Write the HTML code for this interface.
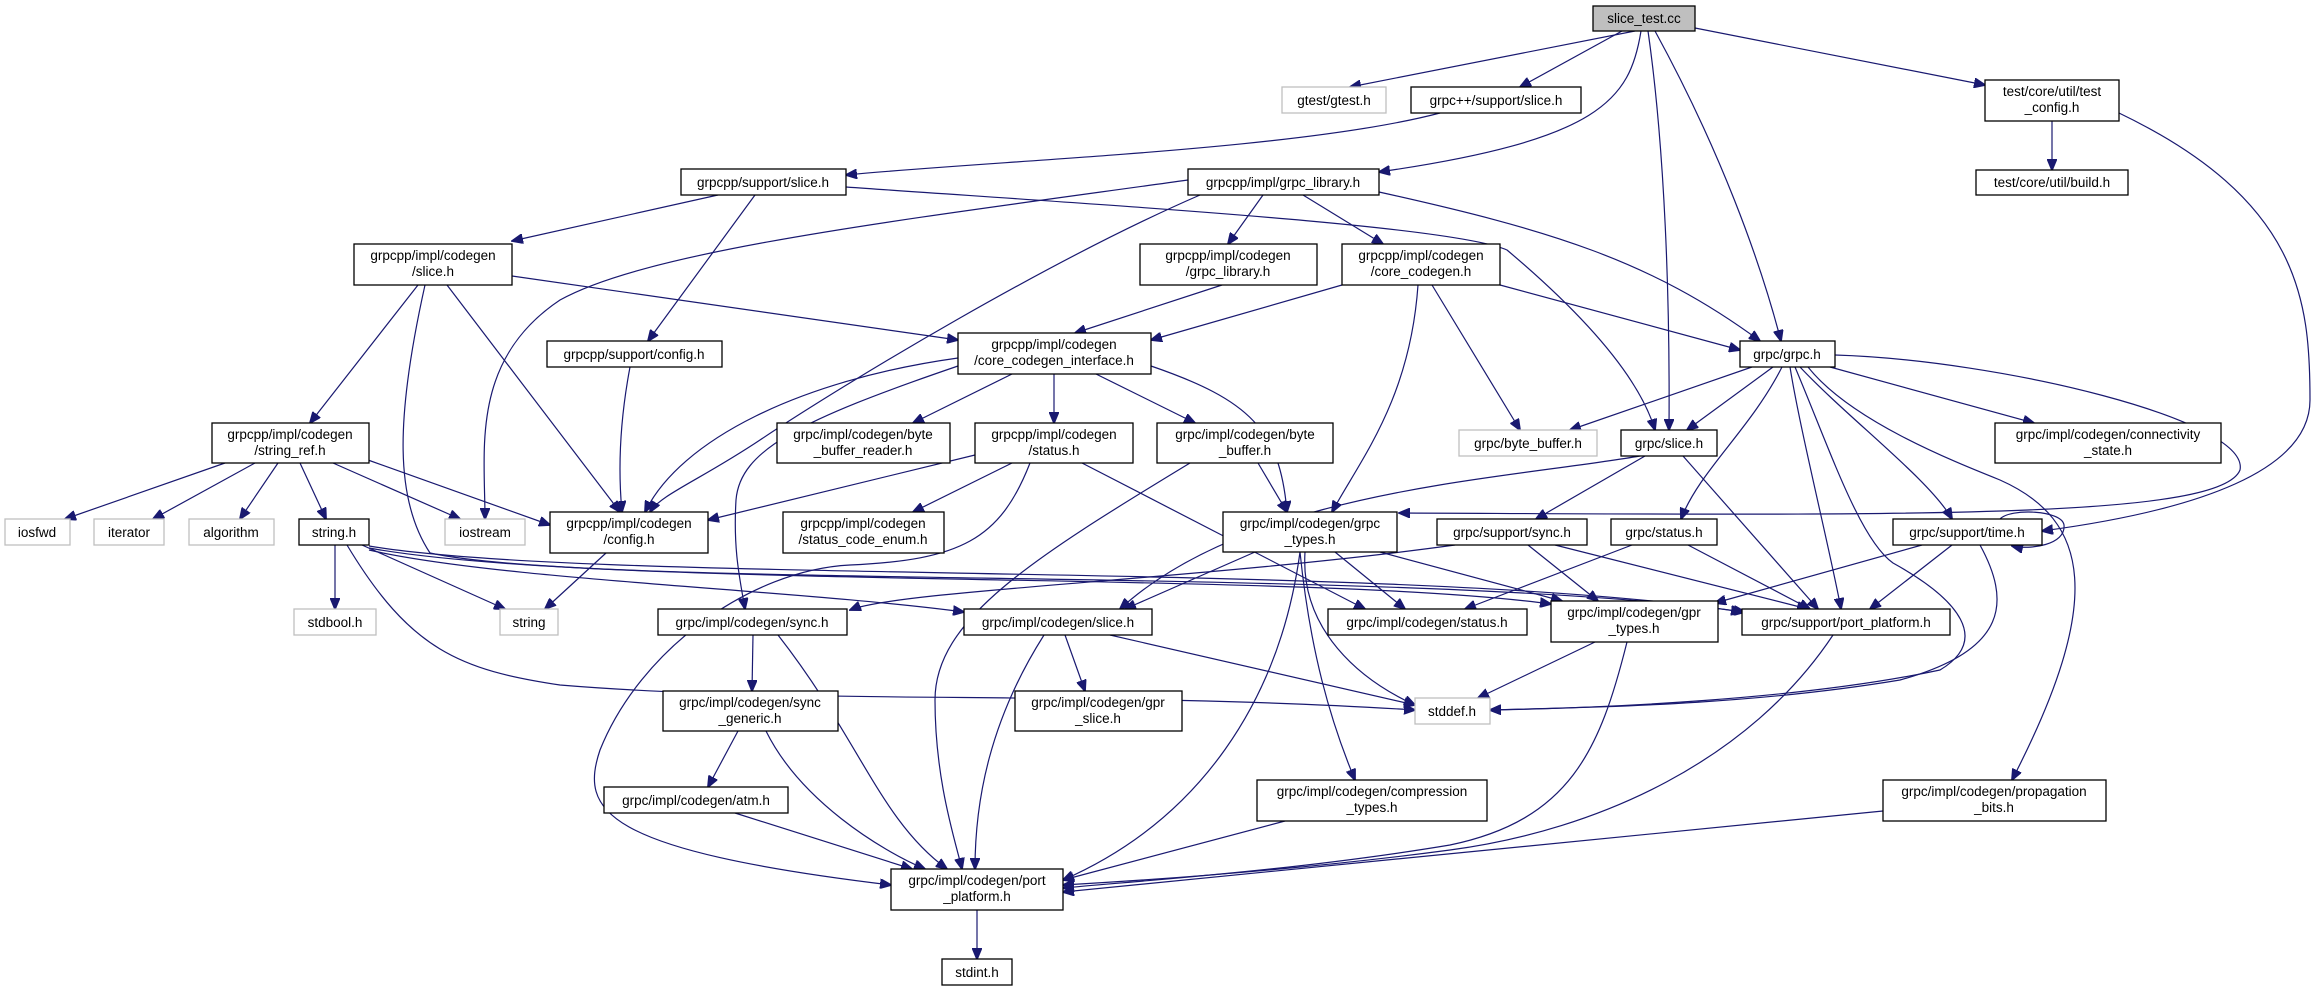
<!DOCTYPE html>
<html><head><meta charset="utf-8"><style>
html,body{margin:0;padding:0;background:#fff;}
svg{display:block;}
text{font-family:"Liberation Sans","DejaVu Sans",sans-serif;font-size:13.5px;fill:#000;text-anchor:middle;}
.n{fill:#fff;stroke:#000;stroke-width:1.3;}
.g{fill:#fff;stroke:#bfbfbf;stroke-width:1.3;}
.e{fill:none;stroke:#191970;stroke-width:1.2;marker-end:url(#a);}
</style></head><body>
<svg width="2315" height="991" viewBox="0 0 2315 991" xmlns="http://www.w3.org/2000/svg">
<defs><marker id="a" markerUnits="userSpaceOnUse" markerWidth="12" markerHeight="10" refX="11" refY="5" orient="auto"><path d="M0,0 L12,5 L0,10 z" fill="#191970" stroke="#191970"/></marker></defs>

<path class="e" d="M1635,31 L1350,87"/>
<path class="e" d="M1622,31 L1520,87"/>
<path class="e" d="M1641,31 C1630,100 1600,140 1379,172"/>
<path class="e" d="M1648,31 C1665,150 1670,300 1669,430"/>
<path class="e" d="M1655,31 C1720,150 1760,260 1781,341"/>
<path class="e" d="M1695,28 L1985,85"/>
<path class="e" d="M1440,113 C1300,150 1000,160 846,175"/>
<path class="e" d="M2052,121 L2052,170"/>
<path class="e" d="M2119,113 C2300,200 2310,300 2310,400 C2310,470 2200,510 2042,531"/>
<path class="e" d="M718,195 L512,241"/>
<path class="e" d="M755,195 L648,341"/>
<path class="e" d="M846,187 C1100,205 1450,225 1507,250 C1590,320 1640,380 1655,430"/>
<path class="e" d="M1188,180 C900,220 650,250 560,300 C470,360 485,450 485,519"/>
<path class="e" d="M1200,195 C1050,260 850,380 760,440 C700,480 660,495 650,512"/>
<path class="e" d="M1263,195 L1228,244"/>
<path class="e" d="M1303,195 L1383,244"/>
<path class="e" d="M1379,192 C1550,230 1650,260 1760,341"/>
<path class="e" d="M1222,285 L1075,333"/>
<path class="e" d="M1342,285 L1151,340"/>
<path class="e" d="M1418,285 C1410,400 1360,460 1332,512"/>
<path class="e" d="M1432,285 L1520,430"/>
<path class="e" d="M1500,285 L1740,350"/>
<path class="e" d="M512,276 L958,340"/>
<path class="e" d="M418,285 L310,423"/>
<path class="e" d="M447,285 L620,512"/>
<path class="e" d="M425,285 C395,420 395,500 430,553 C600,590 1400,565 1745,612"/>
<path class="e" d="M630,367 C620,420 618,470 622,512"/>
<path class="e" d="M958,358 C800,380 680,440 645,512"/>
<path class="e" d="M958,366 C800,420 740,450 736,500 C733,550 740,580 745,609"/>
<path class="e" d="M1012,374 L913,423"/>
<path class="e" d="M1054,374 L1054,423"/>
<path class="e" d="M1096,374 L1195,423"/>
<path class="e" d="M1151,366 C1250,400 1280,430 1287,512"/>
<path class="e" d="M225,463 L65,519"/>
<path class="e" d="M255,463 L153,519"/>
<path class="e" d="M278,463 L240,519"/>
<path class="e" d="M300,463 L326,519"/>
<path class="e" d="M333,463 L460,519"/>
<path class="e" d="M368,460 L550,525"/>
<path class="e" d="M335,545 L335,609"/>
<path class="e" d="M362,545 L505,609"/>
<path class="e" d="M347,545 C410,650 460,670 560,685 C800,705 1100,690 1415,710"/>
<path class="e" d="M369,550 C500,580 800,590 964,612"/>
<path class="e" d="M369,548 C600,590 1300,570 1551,604"/>
<path class="e" d="M369,546 C600,585 1400,560 1742,612"/>
<path class="e" d="M606,553 L545,609"/>
<path class="e" d="M975,455 L708,520"/>
<path class="e" d="M1012,463 L913,512"/>
<path class="e" d="M1030,463 C1000,540 960,560 850,565 C750,570 640,650 600,750 C580,810 600,850 891,885"/>
<path class="e" d="M1082,463 L1365,609"/>
<path class="e" d="M1258,463 L1287,512"/>
<path class="e" d="M1190,463 C1030,560 935,620 935,700 C935,780 955,840 962,869"/>
<path class="e" d="M1752,367 L1570,430"/>
<path class="e" d="M1773,367 L1687,430"/>
<path class="e" d="M1835,355 C2000,360 2250,420 2240,470 C2220,520 1900,515 1399,513"/>
<path class="e" d="M1782,367 C1750,430 1700,470 1681,519"/>
<path class="e" d="M1790,367 C1800,430 1830,550 1841,609"/>
<path class="e" d="M1800,367 C1850,420 1930,480 1952,519"/>
<path class="e" d="M1795,367 C1830,450 1860,540 1893,563 C1960,600 1990,640 1940,670 C1800,700 1600,708 1490,710"/>
<path class="e" d="M1808,367 C1850,420 1950,460 2000,480 C2090,520 2105,600 2012,780"/>
<path class="e" d="M1830,367 L2034,423"/>
<path class="e" d="M1640,456 C1500,480 1250,490 1120,609"/>
<path class="e" d="M1645,456 L1536,519"/>
<path class="e" d="M1683,456 L1818,609"/>
<path class="e" d="M1255,552 L1125,609"/>
<path class="e" d="M1335,552 L1405,609"/>
<path class="e" d="M1380,552 L1562,601"/>
<path class="e" d="M1305,552 C1300,630 1360,680 1415,705"/>
<path class="e" d="M1300,552 C1310,650 1330,720 1355,780"/>
<path class="e" d="M1300,552 C1280,700 1200,820 1063,880"/>
<path class="e" d="M1455,545 C1200,580 900,590 850,610"/>
<path class="e" d="M1528,545 L1598,601"/>
<path class="e" d="M1555,545 L1808,609"/>
<path class="e" d="M1632,545 L1465,609"/>
<path class="e" d="M1688,545 L1810,609"/>
<path class="e" d="M2000,519 C2010,508 2062,510 2064,525 C2066,545 2030,550 2012,546"/>
<path class="e" d="M1922,545 L1715,603"/>
<path class="e" d="M1952,545 L1870,609"/>
<path class="e" d="M1980,545 C2010,600 2010,650 1900,680 C1750,705 1600,707 1490,710"/>
<path class="e" d="M1595,642 L1478,698"/>
<path class="e" d="M1627,642 C1600,750 1570,820 1450,845 C1300,870 1150,880 1063,888"/>
<path class="e" d="M1833,635 C1750,760 1600,830 1450,850 C1300,870 1150,880 1063,885"/>
<path class="e" d="M1065,635 L1085,691"/>
<path class="e" d="M1044,635 C990,720 975,800 975,869"/>
<path class="e" d="M1110,635 L1415,705"/>
<path class="e" d="M753,635 L752,691"/>
<path class="e" d="M778,635 C860,740 880,820 947,869"/>
<path class="e" d="M738,731 L708,787"/>
<path class="e" d="M766,731 C800,800 880,850 925,869"/>
<path class="e" d="M735,813 L912,869"/>
<path class="e" d="M1285,821 L1063,880"/>
<path class="e" d="M1883,811 L1063,892"/>
<path class="e" d="M977,910 L977,959"/>

<rect x="1593" y="6" width="102" height="25" fill="#bfbfbf" stroke="#000" stroke-width="1.3"/><text x="1644" y="23">slice_test.cc</text>
<rect class="g" x="1282" y="87" width="104" height="26"/><text x="1334" y="105">gtest/gtest.h</text>
<rect class="n" x="1411" y="87" width="170" height="26"/><text x="1496" y="105">grpc++/support/slice.h</text>
<rect class="n" x="1985" y="80" width="134" height="41"/><text x="2052" y="96">test/core/util/test</text><text x="2052" y="112">_config.h</text>
<rect class="n" x="1976" y="170" width="152" height="25"/><text x="2052" y="187">test/core/util/build.h</text>
<rect class="n" x="681" y="169" width="165" height="26"/><text x="763" y="187">grpcpp/support/slice.h</text>
<rect class="n" x="1188" y="169" width="191" height="26"/><text x="1283" y="187">grpcpp/impl/grpc_library.h</text>
<rect class="n" x="354" y="244" width="158" height="41"/><text x="433" y="260">grpcpp/impl/codegen</text><text x="433" y="276">/slice.h</text>
<rect class="n" x="1140" y="244" width="177" height="41"/><text x="1228" y="260">grpcpp/impl/codegen</text><text x="1228" y="276">/grpc_library.h</text>
<rect class="n" x="1342" y="244" width="158" height="41"/><text x="1421" y="260">grpcpp/impl/codegen</text><text x="1421" y="276">/core_codegen.h</text>
<rect class="n" x="547" y="341" width="175" height="26"/><text x="634" y="359">grpcpp/support/config.h</text>
<rect class="n" x="958" y="333" width="193" height="41"/><text x="1054" y="349">grpcpp/impl/codegen</text><text x="1054" y="365">/core_codegen_interface.h</text>
<rect class="n" x="1740" y="341" width="95" height="26"/><text x="1787" y="359">grpc/grpc.h</text>
<rect class="n" x="212" y="423" width="157" height="40"/><text x="290" y="439">grpcpp/impl/codegen</text><text x="290" y="455">/string_ref.h</text>
<rect class="n" x="777" y="423" width="173" height="40"/><text x="863" y="439">grpc/impl/codegen/byte</text><text x="863" y="455">_buffer_reader.h</text>
<rect class="n" x="975" y="423" width="158" height="40"/><text x="1054" y="439">grpcpp/impl/codegen</text><text x="1054" y="455">/status.h</text>
<rect class="n" x="1157" y="423" width="176" height="40"/><text x="1245" y="439">grpc/impl/codegen/byte</text><text x="1245" y="455">_buffer.h</text>
<rect class="g" x="1459" y="430" width="138" height="26"/><text x="1528" y="448">grpc/byte_buffer.h</text>
<rect class="n" x="1621" y="430" width="96" height="26"/><text x="1669" y="448">grpc/slice.h</text>
<rect class="n" x="1995" y="423" width="226" height="40"/><text x="2108" y="439">grpc/impl/codegen/connectivity</text><text x="2108" y="455">_state.h</text>
<rect class="g" x="5" y="519" width="65" height="26"/><text x="37" y="537">iosfwd</text>
<rect class="g" x="94" y="519" width="70" height="26"/><text x="129" y="537">iterator</text>
<rect class="g" x="189" y="519" width="85" height="26"/><text x="231" y="537">algorithm</text>
<rect class="n" x="299" y="519" width="70" height="26"/><text x="334" y="537">string.h</text>
<rect class="g" x="445" y="519" width="80" height="26"/><text x="485" y="537">iostream</text>
<rect class="n" x="550" y="512" width="158" height="41"/><text x="629" y="528">grpcpp/impl/codegen</text><text x="629" y="544">/config.h</text>
<rect class="n" x="783" y="512" width="161" height="41"/><text x="863" y="528">grpcpp/impl/codegen</text><text x="863" y="544">/status_code_enum.h</text>
<rect class="n" x="1223" y="512" width="174" height="40"/><text x="1310" y="528">grpc/impl/codegen/grpc</text><text x="1310" y="544">_types.h</text>
<rect class="n" x="1437" y="519" width="150" height="26"/><text x="1512" y="537">grpc/support/sync.h</text>
<rect class="n" x="1611" y="519" width="106" height="26"/><text x="1664" y="537">grpc/status.h</text>
<rect class="n" x="1893" y="519" width="149" height="26"/><text x="1967" y="537">grpc/support/time.h</text>
<rect class="g" x="294" y="609" width="82" height="26"/><text x="335" y="627">stdbool.h</text>
<rect class="g" x="500" y="609" width="58" height="26"/><text x="529" y="627">string</text>
<rect class="n" x="658" y="609" width="189" height="26"/><text x="752" y="627">grpc/impl/codegen/sync.h</text>
<rect class="n" x="964" y="609" width="188" height="26"/><text x="1058" y="627">grpc/impl/codegen/slice.h</text>
<rect class="n" x="1328" y="609" width="199" height="26"/><text x="1427" y="627">grpc/impl/codegen/status.h</text>
<rect class="n" x="1551" y="601" width="167" height="41"/><text x="1634" y="617">grpc/impl/codegen/gpr</text><text x="1634" y="633">_types.h</text>
<rect class="n" x="1742" y="609" width="208" height="26"/><text x="1846" y="627">grpc/support/port_platform.h</text>
<rect class="n" x="663" y="691" width="175" height="40"/><text x="750" y="707">grpc/impl/codegen/sync</text><text x="750" y="723">_generic.h</text>
<rect class="n" x="1015" y="691" width="167" height="40"/><text x="1098" y="707">grpc/impl/codegen/gpr</text><text x="1098" y="723">_slice.h</text>
<rect class="g" x="1415" y="698" width="75" height="26"/><text x="1452" y="716">stddef.h</text>
<rect class="n" x="604" y="787" width="184" height="26"/><text x="696" y="805">grpc/impl/codegen/atm.h</text>
<rect class="n" x="1257" y="780" width="230" height="41"/><text x="1372" y="796">grpc/impl/codegen/compression</text><text x="1372" y="812">_types.h</text>
<rect class="n" x="1883" y="780" width="223" height="41"/><text x="1994" y="796">grpc/impl/codegen/propagation</text><text x="1994" y="812">_bits.h</text>
<rect class="n" x="891" y="869" width="172" height="41"/><text x="977" y="885">grpc/impl/codegen/port</text><text x="977" y="901">_platform.h</text>
<rect class="n" x="942" y="959" width="70" height="26"/><text x="977" y="977">stdint.h</text>
</svg>
</body></html>
